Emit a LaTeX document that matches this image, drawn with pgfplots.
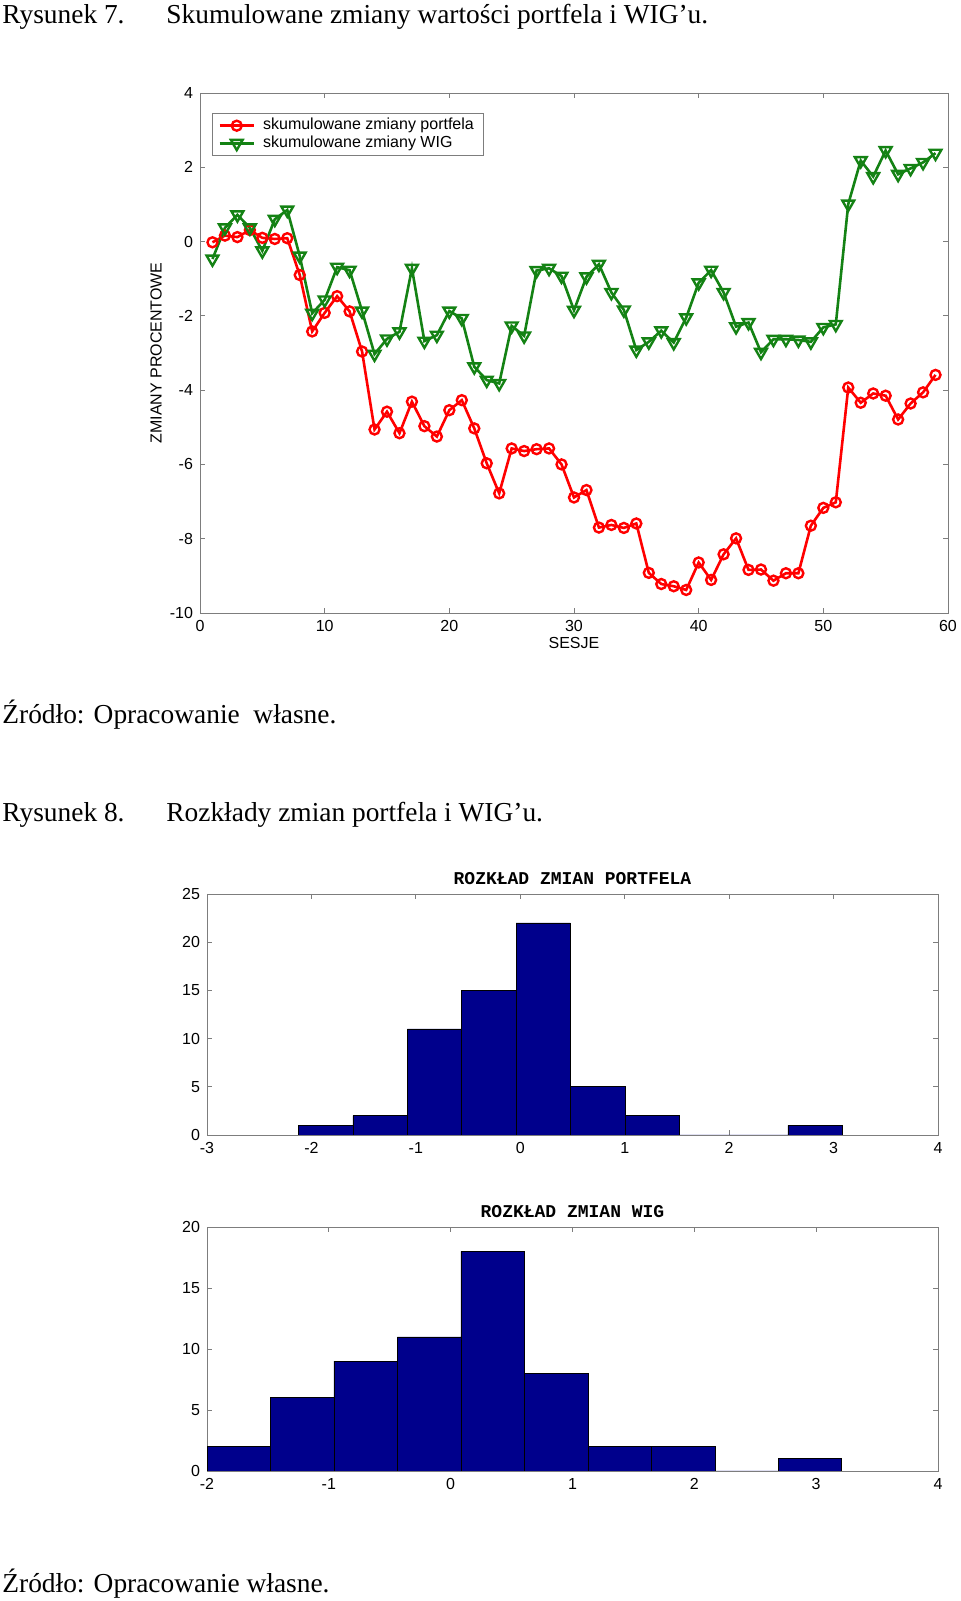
\documentclass[border=0pt]{standalone}
\usepackage{fontspec}
\setmainfont{Liberation Serif}
\newfontfamily\arial{Liberation Sans}
\newfontfamily\cour{Liberation Mono}
\usepackage{pgfplots}
\pgfplotsset{compat=1.18}
\definecolor{ax}{RGB}{125,125,125}
\definecolor{wig}{RGB}{20,130,20}
\definecolor{navy}{RGB}{0,0,140}
\pgfplotsset{
  matlab/.style={
    scale only axis,
    axis line style={ax},
    tick style={ax, line width=0.4pt},
    major tick length=2.5pt,
    tick align=inside,
    tick pos=both,
    tick label style={font=\arial\fontsize{8}{9}\selectfont},
    label style={font=\arial\fontsize{8}{9}\selectfont},
    /pgf/number format/assume math mode=true,
  },
  histtitle/.style={
    title style={font=\cour\bfseries\fontsize{9}{10}\selectfont, at={(0.5,1)}, anchor=south, yshift=-5pt},
  },
}
\newcommand{\pagefont}{\fontsize{13.7}{16}\selectfont}
\begin{document}
\begin{tikzpicture}
\useasboundingbox (0,0) rectangle (480pt,800.5pt);

% Rysunek 7
\begin{axis}[matlab,
  at={(100pt,494pt)}, anchor=south west,
  width=374pt, height=260pt,
  xmin=0, xmax=60, ymin=-10, ymax=4,
  xtick={0,10,...,60}, ytick={-10,-8,...,4},
  xlabel={SESJE}, ylabel={ZMIANY PROCENTOWE},
  xlabel style={at={(axis description cs:0.5,-0.0577)}, anchor=center},
  ylabel style={at={(axis description cs:-0.0588,0.5)}, anchor=center},
  legend cell align=left,
  legend style={at={(0.016,0.9615)}, anchor=north west, draw=ax,
    font=\arial\fontsize{8}{9}\selectfont, inner xsep=3pt, inner ysep=0.5pt, row sep=-2.5pt,
    /tikz/every odd column/.append style={column sep=2pt}},
]
\addplot[red, line width=1.3pt, mark=o, mark size=2.5pt, mark options={line width=1.2pt}] coordinates {
(1,-0.02)(2,0.16)(3,0.12)(4,0.31)(5,0.10)(6,0.07)(7,0.09)(8,-0.90)(9,-2.42)(10,-1.92)
(11,-1.47)(12,-1.88)(13,-2.96)(14,-5.06)(15,-4.58)(16,-5.16)(17,-4.31)(18,-4.97)(19,-5.25)(20,-4.54)
(21,-4.27)(22,-5.03)(23,-5.97)(24,-6.78)(25,-5.57)(26,-5.64)(27,-5.59)(28,-5.57)(29,-6.00)(30,-6.89)
(31,-6.69)(32,-7.70)(33,-7.63)(34,-7.71)(35,-7.59)(36,-8.92)(37,-9.22)(38,-9.28)(39,-9.38)(40,-8.64)
(41,-9.11)(42,-8.42)(43,-7.99)(44,-8.84)(45,-8.83)(46,-9.13)(47,-8.93)(48,-8.93)(49,-7.65)(50,-7.17)
(51,-7.02)(52,-3.93)(53,-4.34)(54,-4.09)(55,-4.15)(56,-4.79)(57,-4.36)(58,-4.06)(59,-3.59)};
\addlegendentry{skumulowane zmiany portfela}
\addplot[wig, line width=1.3pt, mark=triangle, mark size=3.4pt, mark options={rotate=180, line width=1.2pt}] coordinates {
(1,-0.47)(2,0.37)(3,0.72)(4,0.37)(5,-0.25)(6,0.60)(7,0.85)(8,-0.39)(9,-1.93)(10,-1.57)
(11,-0.69)(12,-0.77)(13,-1.87)(14,-3.03)(15,-2.62)(16,-2.43)(17,-0.72)(18,-2.68)(19,-2.52)(20,-1.87)
(21,-2.07)(22,-3.37)(23,-3.73)(24,-3.82)(25,-2.27)(26,-2.54)(27,-0.78)(28,-0.72)(29,-0.93)(30,-1.85)
(31,-0.95)(32,-0.61)(33,-1.37)(34,-1.84)(35,-2.92)(36,-2.70)(37,-2.40)(38,-2.72)(39,-2.05)(40,-1.11)
(41,-0.77)(42,-1.37)(43,-2.29)(44,-2.18)(45,-2.98)(46,-2.63)(47,-2.63)(48,-2.65)(49,-2.70)(50,-2.31)
(51,-2.23)(52,1.01)(53,2.18)(54,1.75)(55,2.45)(56,1.81)(57,1.97)(58,2.13)(59,2.38)};
\addlegendentry{skumulowane zmiany WIG}
\end{axis}

% Rysunek 8, histogram portfela
\begin{axis}[matlab, histtitle,
  at={(103.5pt,233pt)}, anchor=south west,
  width=365.5pt, height=120.5pt,
  xmin=-3, xmax=4, ymin=0, ymax=25,
  xtick={-3,...,4}, ytick={0,5,...,25},
  title={ROZKŁAD ZMIAN PORTFELA},
]
\addplot[ybar interval, fill=navy, draw=black, line width=0.3pt] coordinates {
(-2.124,1)(-1.603,2)(-1.082,11)(-0.562,15)(-0.041,22)(0.480,5)(1.001,2)(1.522,0)(2.043,0)(2.563,1)(3.084,0)};
\end{axis}

% histogram WIG
\begin{axis}[matlab, histtitle,
  at={(103.5pt,65pt)}, anchor=south west,
  width=365.5pt, height=122pt,
  xmin=-2, xmax=4, ymin=0, ymax=20,
  xtick={-2,...,4}, ytick={0,5,...,20},
  title={ROZKŁAD ZMIAN WIG},
]
\addplot[ybar interval, fill=navy, draw=black, line width=0.3pt] coordinates {
(-2.0,2)(-1.479,6)(-0.958,9)(-0.437,11)(0.084,18)(0.605,8)(1.126,2)(1.647,2)(2.168,0)(2.689,1)(3.21,0)};
\end{axis}

\node[anchor=base west, inner sep=0pt, font=\pagefont] at (1pt,788.5pt) {Rysunek 7.};
\node[anchor=base west, inner sep=0pt, font=\pagefont] at (83pt,788.5pt) {Skumulowane zmiany wartości portfela i WIG’u.};
\node[anchor=base west, inner sep=0pt, font=\pagefont] at (1pt,438.5pt) {Źródło: Opracowanie\ \ własne.};
\node[anchor=base west, inner sep=0pt, font=\pagefont] at (1pt,389.5pt) {Rysunek 8.};
\node[anchor=base west, inner sep=0pt, font=\pagefont] at (83pt,389.5pt) {Rozkłady zmian portfela i WIG’u.};
\node[anchor=base west, inner sep=0pt, font=\pagefont] at (1pt,4.5pt) {Źródło: Opracowanie własne.};
\end{tikzpicture}
\end{document}
